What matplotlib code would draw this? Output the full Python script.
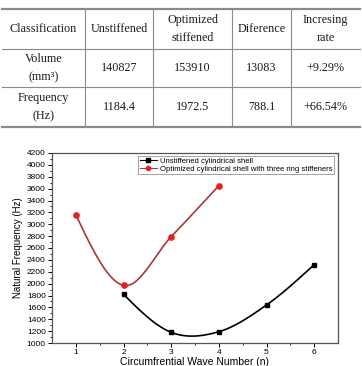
import numpy as np
import matplotlib
matplotlib.use("Agg")
import matplotlib.pyplot as plt
from matplotlib.lines import Line2D

# table data
col_labels = ["Classification", "Unstiffened", "Optimized\nstiffened", "Diference", "Incresing\nrate"]
row_volume = ["Volume\n(mm³)", "140827", "153910", "13083", "+9.29%"]
row_freq = ["Frequency\n(Hz)", "1184.4", "1972.5", "788.1", "+66.54%"]

# chart data
n_unstiff = [2, 3, 4, 5, 6]
f_unstiff = [1820, 1180, 1190, 1640, 2320]
n_opt = [1, 2, 3, 4]
f_opt = [3160, 1970, 2790, 3650]


def smooth(x, y, num=60):
    # cubic Hermite through the points, Catmull-Rom tangents inside
    x = np.asarray(x, float)
    y = np.asarray(y, float)
    m = np.diff(y) / np.diff(x)
    t = np.zeros_like(y)
    t[1:-1] = (m[:-1] + m[1:]) / 2
    t[0] = (3 * m[0] - t[1]) / 2
    t[-1] = (3 * m[-1] - t[-2]) / 2
    xs_all, ys_all = [], []
    for i in range(len(x) - 1):
        h = x[i + 1] - x[i]
        s = np.linspace(0, 1, num)
        h00 = 2 * s**3 - 3 * s**2 + 1
        h10 = s**3 - 2 * s**2 + s
        h01 = -2 * s**3 + 3 * s**2
        h11 = s**3 - s**2
        xs_all.append(x[i] + s * h)
        ys_all.append(h00 * y[i] + h10 * h * t[i] + h01 * y[i + 1] + h11 * h * t[i + 1])
    return np.concatenate(xs_all), np.concatenate(ys_all)


W, H = 362, 366
fig = plt.figure(figsize=(W / 100, H / 100), dpi=100)

# --- table drawn in pixel space ---
tab = fig.add_axes([0, 0, 1, 1])
tab.set_xlim(0, W)
tab.set_ylim(H, 0)
tab.axis("off")

col_edges = [2, 85, 153, 232, 291, 360]
row_edges = [9, 49, 87, 127]
grey = "#8a8a8a"
tab.plot([col_edges[0], col_edges[-1]], [row_edges[0], row_edges[0]], color=grey, lw=1.6)
tab.plot([col_edges[0], col_edges[-1]], [row_edges[-1], row_edges[-1]], color=grey, lw=1.6)
for r in row_edges[1:-1]:
    tab.plot([col_edges[0], col_edges[-1]], [r, r], color=grey, lw=0.8)
for c in col_edges[1:-1]:
    tab.plot([c, c], [row_edges[0], row_edges[-1]], color=grey, lw=0.8)

serif = ["Liberation Serif", "DejaVu Serif"]
for r, row in enumerate([col_labels, row_volume, row_freq]):
    yc = (row_edges[r] + row_edges[r + 1]) / 2
    for c, txt in enumerate(row):
        xc = (col_edges[c] + col_edges[c + 1]) / 2
        tab.text(xc, yc, txt, ha="center", va="center", family=serif,
                 fontsize=8.7, linespacing=1.75, color="#1a1a1a")

# --- chart ---
ax = fig.add_axes([52 / W, (H - 343) / H, (338 - 52) / W, (343 - 153) / H])
sans = ["Liberation Sans", "DejaVu Sans"]

black = "black"
red_line, red_mark = "#a83838", "#e82020"

xs, ys = smooth(n_unstiff, f_unstiff)
ax.plot(xs, ys, color=black, lw=1.2)
ax.plot(n_unstiff, f_unstiff, "s", color=black, ms=3.5)
xs, ys = smooth(n_opt, f_opt)
ax.plot(xs, ys, color=red_line, lw=1.2)
ax.plot(n_opt, f_opt, "o", color=red_mark, ms=3.8)

ax.set_xlim(0.5, 6.5)
ax.set_ylim(1000, 4200)
ax.set_xticks(range(1, 7))
ax.set_xticks(np.arange(1.5, 6.5, 1), minor=True)
ax.set_yticks(range(1000, 4201, 200))
ax.set_yticks(range(1100, 4200, 200), minor=True)
ax.tick_params(which="major", length=3, width=0.7, labelsize=6, pad=1.5)
ax.tick_params(which="minor", length=1.5, width=0.6)
for lab in ax.get_xticklabels() + ax.get_yticklabels():
    lab.set_family(sans)
for s in ax.spines.values():
    s.set_color("#555555")
    s.set_linewidth(0.9)

ax.set_ylabel("Natural Frequency (Hz)", family=sans, fontsize=7, labelpad=3)
ax.set_xlabel("Circumfrential Wave Number (n)", family=sans, fontsize=7.5, labelpad=0.5)

handles = [
    Line2D([], [], color=black, lw=0.8, marker="s", ms=3),
    Line2D([], [], color=red_line, lw=0.8, marker="o", ms=3, markerfacecolor=red_mark,
           markeredgecolor=red_mark),
]
labels = ["Unstiffened cylindrical shell",
          "Optimized cylindrical shell with three ring stiffeners"]
leg = ax.legend(handles, labels, loc="upper right", bbox_to_anchor=(0.985, 0.985),
                prop={"family": sans, "size": 5.5}, frameon=True, fancybox=False,
                borderpad=0.2, labelspacing=0.1, handlelength=2.2, handletextpad=0.4,
                borderaxespad=0)
leg.get_frame().set_edgecolor("#777777")
leg.get_frame().set_linewidth(0.6)

fig.savefig("out.png", dpi=100)
